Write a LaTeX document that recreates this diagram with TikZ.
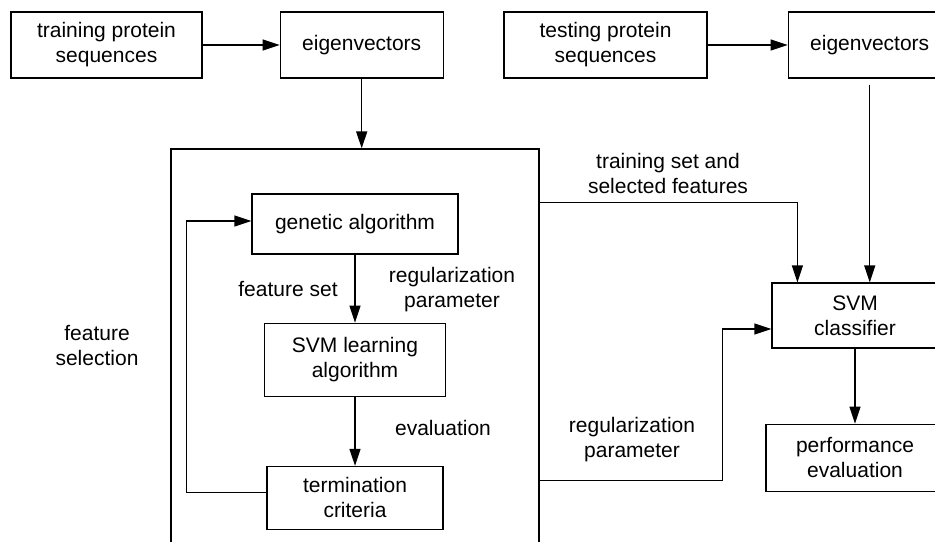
\documentclass[tikz,border=0pt]{standalone}
\usepackage{fontspec}
\setmainfont{Liberation Sans}
\usetikzlibrary{positioning,arrows.meta}

\begin{document}
\begin{tikzpicture}[x=0.5pt,y=-0.5pt,
                    boxnode/.style={draw, line width=0.6pt, align=center, inner sep=2pt, font=\fontsize{10.5}{12.5}\selectfont},
                    textnode/.style={align=center, inner sep=0pt, font=\fontsize{10.5}{12.5}\selectfont},
                    arrowline/.style={line width=0.6pt, -{Triangle[length=8.5pt,width=5.5pt]}},
                ]
                    \clip (0,0) rectangle (935,541);

                    %Nodes
                    \node[boxnode, minimum width=95.5pt, minimum height=33pt](train) at (106.5,45) {training protein\\sequences};
                    \node[boxnode, minimum width=81.5pt, minimum height=33pt](eigtrain)[right=38.5pt of train] {eigenvectors};
                    \node[boxnode, minimum width=101.5pt, minimum height=33pt](test) at (605.5,45) {testing protein\\sequences};
                    \node[boxnode, minimum width=81.5pt, minimum height=33pt](eigtest)[right=40pt of test] {eigenvectors};
                    \node[boxnode, minimum width=184pt, minimum height=210pt](fsel) at (355,359) {};
                    \node[boxnode, minimum width=103pt, minimum height=30pt](ga) at (355,224) {genetic algorithm};
                    \node[boxnode, minimum width=90.5pt, minimum height=36.5pt](svml)[below=34pt of ga] {SVM learning\\algorithm};
                    \node[boxnode, minimum width=88pt, minimum height=31.5pt](term)[below=34.5pt of svml] {termination\\criteria};
                    \node[boxnode, minimum width=83pt, minimum height=32.5pt](svmc) at (855,315.5) {SVM\\classifier};
                    \node[boxnode, minimum width=89pt, minimum height=33.5pt](perf)[below=37.5pt of svmc] {performance\\evaluation};

                    %Labels
                    \node[textnode](fsellabel) at (97,345) {feature\\selection};
                    \node[textnode](fsetlabel) at (288,289) {feature set};
                    \node[textnode](reginlabel) at (452,290) {regularization\\parameter};
                    \node[textnode](evallabel) at (443,428) {evaluation};
                    \node[textnode](tsetlabel) at (668,173) {training set and\\selected features};
                    \node[textnode](regoutlabel) at (632,440) {regularization\\parameter};

                    %Lines
                    \draw[arrowline](train) -- (eigtrain);
                    \draw[arrowline](eigtrain.south) -- (eigtrain.south |- fsel.north);
                    \draw[arrowline](test) -- (eigtest);
                    \draw[arrowline]([yshift=-3pt]eigtest.south) -- (eigtest.south |- svmc.north);
                    \draw[arrowline](ga) -- (svml);
                    \draw[arrowline](svml) -- (term);
                    \draw[arrowline]([yshift=2.75pt]term.west) -- ++(-40pt,0) |- ([yshift=1.5pt]ga.west);
                    \draw[arrowline]([yshift=-27pt]fsel.north east) -| ([xshift=13pt]svmc.north west);
                    \draw[arrowline]([yshift=-166pt]fsel.north east) -- ++(91.5pt,0) |- ([yshift=-6.75pt]svmc.west);
                    \draw[arrowline](svmc) -- (perf);
                \end{tikzpicture}
\end{document}
